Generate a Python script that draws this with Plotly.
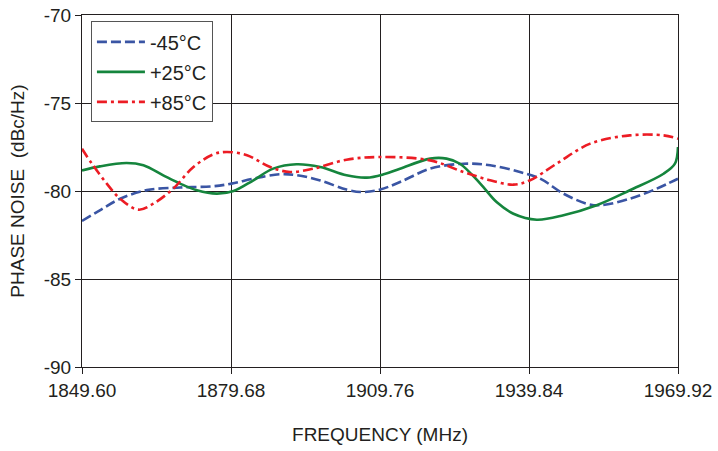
import plotly.graph_objects as go

freq_m45 = [1849.6, 1853.2, 1857.3, 1862.7, 1869.4, 1876.1, 1879.8, 1884.2, 1889.6, 1892.9, 1897.7,
            1903.0, 1906.4, 1909.8, 1913.8, 1919.9, 1926.6, 1932.0, 1938.0, 1942.1, 1946.8, 1951.5,
            1954.2, 1960.2, 1965.6, 1969.92]
pn_m45 = [-81.7, -81.1, -80.44, -79.95, -79.8, -79.73, -79.58, -79.3, -79.05, -79.1, -79.4,
          -79.92, -80.06, -79.92, -79.49, -78.73, -78.45, -78.54, -78.92, -79.3, -80.15, -80.72,
          -80.81, -80.44, -79.87, -79.3]

freq_p25 = [1849.6, 1853.2, 1858.6, 1862.0, 1866.0, 1869.4, 1872.8, 1876.8, 1880.2, 1884.2, 1888.2,
            1892.9, 1897.7, 1903.0, 1907.1, 1910.5, 1913.8, 1919.9, 1923.2, 1925.9, 1930.0, 1933.3,
            1936.7, 1941.4, 1946.8, 1953.5, 1960.2, 1967.0, 1969.3, 1969.92]
pn_p25 = [-78.83, -78.6, -78.41, -78.54, -79.11, -79.58, -79.96, -80.15, -80.0, -79.39, -78.73,
          -78.48, -78.64, -79.11, -79.24, -79.05, -78.73, -78.16, -78.16, -78.45, -79.58, -80.63,
          -81.29, -81.63, -81.38, -80.81, -79.96, -79.02, -78.45, -77.5]

freq_p85 = [1849.6, 1851.6, 1854.6, 1857.3, 1861.0, 1864.0, 1868.0, 1872.1, 1876.1, 1878.8, 1882.9,
            1887.6, 1891.6, 1896.3, 1903.0, 1909.8, 1919.9, 1926.6, 1932.0, 1936.7, 1940.05, 1945.4,
            1952.2, 1960.2, 1967.0, 1969.92]
pn_p85 = [-77.6, -78.45, -79.58, -80.44, -81.06, -80.72, -79.87, -78.64, -77.92, -77.78, -77.97,
          -78.64, -78.92, -78.73, -78.22, -78.07, -78.26, -78.92, -79.39, -79.64, -79.39, -78.45,
          -77.31, -76.84, -76.84, -77.03]

x_ticks = [1849.60, 1879.68, 1909.76, 1939.84, 1969.92]
x_tick_labels = ["1849.60", "1879.68", "1909.76", "1939.84", "1969.92"]
y_ticks = [-90, -85, -80, -75, -70]
y_tick_labels = ["-90", "-85", "-80", "-75", "-70"]

font = "Liberation Sans, Arial, sans-serif"
ink = "#231f20"

fig = go.Figure()
fig.add_trace(go.Scatter(x=freq_m45, y=pn_m45, mode="lines", name="-45°C", legendgroup="a",
                         line=dict(color="#3a55a4", width=2.6, dash="10px,4px", shape="spline", smoothing=1)))
fig.add_trace(go.Scatter(x=freq_p25, y=pn_p25, mode="lines", name="+25°C", legendgroup="b",
                         line=dict(color="#15853d", width=2.6, shape="spline", smoothing=1)))
fig.add_trace(go.Scatter(x=freq_p85, y=pn_p85, mode="lines", name="+85°C", legendgroup="c",
                         line=dict(color="#ec1c24", width=2.6, dash="10px,4px,3px,4px", shape="spline", smoothing=1)))

fig.update_layout(
    width=718, height=451,
    margin=dict(l=82, r=40, t=15, b=84),
    plot_bgcolor="white", paper_bgcolor="white",
    font=dict(family=font, size=19, color=ink),
    showlegend=True,
    hovermode=False,
    legend=dict(x=0.015, y=0.982, xanchor="left", yanchor="top",
                bgcolor="white", bordercolor="#555555", borderwidth=1,
                font=dict(family=font, size=20), tracegroupgap=1,
                itemwidth=48),
    xaxis=dict(range=[1849.60, 1969.92], tickvals=x_ticks, ticktext=x_tick_labels,
               showgrid=True, gridcolor=ink, gridwidth=1,
               showline=True, linecolor=ink, linewidth=1, mirror=True,
               ticks="outside", ticklen=6, tickcolor=ink, automargin=False,
               ticklabeloverflow="allow",
               zeroline=False, fixedrange=True,
               title=dict(text="FREQUENCY (MHz)", font=dict(family=font, size=19), standoff=27)),
    yaxis=dict(range=[-90, -70], tickvals=y_ticks, ticktext=y_tick_labels,
               showgrid=True, gridcolor=ink, gridwidth=1,
               showline=True, linecolor=ink, linewidth=1, mirror=True,
               ticks="outside", ticklen=6, tickcolor=ink, automargin=False,
               ticklabeloverflow="allow",
               zeroline=False, fixedrange=True,
               title=dict(text="PHASE NOISE  (dBc/Hz)", font=dict(family=font, size=19), standoff=14)),
)

fig.write_html("out.html",
               config={"displayModeBar": False, "staticPlot": True},
               post_script="document.body.style.margin='0';document.body.style.overflow='hidden';")
